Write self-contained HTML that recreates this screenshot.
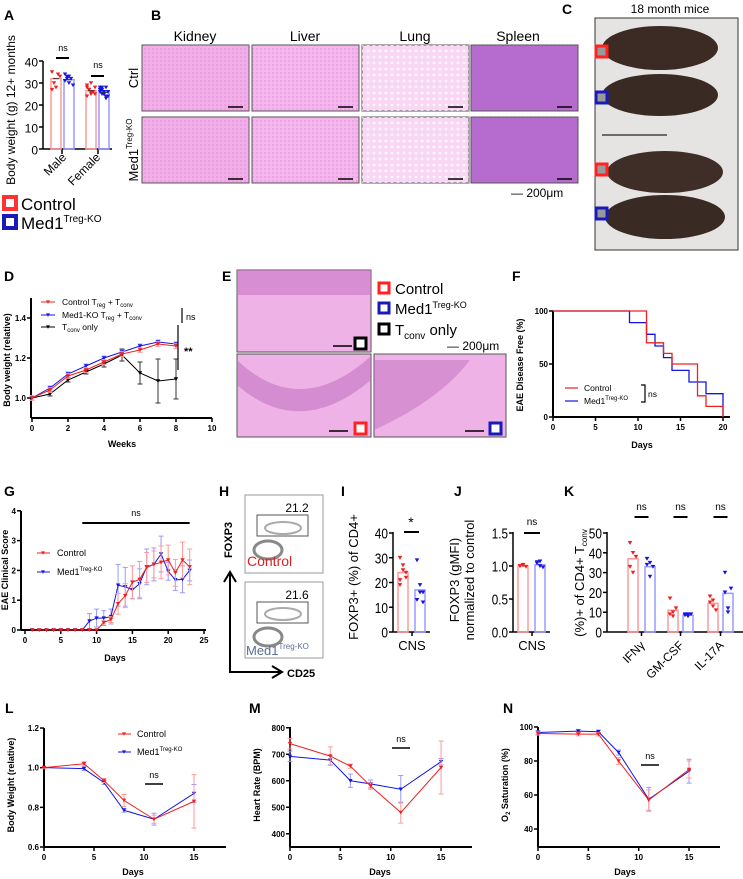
<!DOCTYPE html>
<html><head><meta charset="utf-8"><style>
body{margin:0;background:#fff}
svg{display:block;font-family:"Liberation Sans",Arial,sans-serif}
.pl{font-weight:bold;font-size:14px}
.tk{font-size:8px;font-weight:bold}
.at{font-size:9px;font-weight:bold}
.tk2{font-size:15px}
</style></head><body>
<svg id="fig" width="743" height="879" viewBox="0 0 743 879" xmlns="http://www.w3.org/2000/svg">
<text class="pl" x="4" y="20">A</text>
<text class="pl" x="151" y="20">B</text>
<text class="pl" x="562" y="14">C</text>
<text class="pl" x="4" y="281">D</text>
<text class="pl" x="222" y="281">E</text>
<text class="pl" x="512" y="281">F</text>
<text class="pl" x="4" y="496">G</text>
<text class="pl" x="219" y="496">H</text>
<text class="pl" x="341" y="496">I</text>
<text class="pl" x="454" y="496">J</text>
<text class="pl" x="564" y="496">K</text>
<text class="pl" x="5" y="713">L</text>
<text class="pl" x="249" y="713">M</text>
<text class="pl" x="503" y="713">N</text>

<!-- A -->
<text x="15" y="110" font-size="12" transform="rotate(-90 15 110)" text-anchor="middle">Body weight (g) 12+ months</text>
<text x="67" y="158" font-size="12" text-anchor="end" transform="rotate(-45 67 158)">Male</text>
<text x="101" y="158" font-size="12" text-anchor="end" transform="rotate(-45 101 158)">Female</text>
<text x="63" y="51" font-size="9" text-anchor="middle">ns</text>
<line x1="56" y1="58" x2="69" y2="58" stroke="#000" stroke-width="2"/>
<text x="98" y="68" font-size="9" text-anchor="middle">ns</text>
<line x1="91" y1="76" x2="104" y2="76" stroke="#000" stroke-width="2"/>
<g>
<rect x="4" y="197" width="12" height="12" fill="#fff" stroke="#f33" stroke-width="4"/>
<text x="21" y="210" font-size="17">Control</text>
<rect x="4" y="216" width="12" height="12" fill="#fff" stroke="#1a1ab8" stroke-width="4"/>
<text x="21" y="229" font-size="17">Med1<tspan font-size="10" dy="-7">Treg-KO</tspan></text>
</g>

<!-- B histology -->
<defs>
<pattern id="dots" width="4" height="4" patternUnits="userSpaceOnUse"><rect width="4" height="4" fill="none"/><circle cx="1" cy="1" r="0.7" fill="#c860c0" opacity="0.5"/></pattern>
<pattern id="dots2" width="6" height="6" patternUnits="userSpaceOnUse"><circle cx="2" cy="3" r="1.5" fill="#fff" opacity="0.7"/></pattern>
</defs>
<text x="195" y="41" font-size="14" text-anchor="middle">Kidney</text>
<text x="305" y="41" font-size="14" text-anchor="middle">Liver</text>
<text x="415" y="41" font-size="14" text-anchor="middle">Lung</text>
<text x="518" y="41" font-size="14" text-anchor="middle">Spleen</text>
<text x="138" y="78" font-size="13" text-anchor="middle" transform="rotate(-90 138 78)">Ctrl</text>
<text x="138" y="150" font-size="13" text-anchor="middle" transform="rotate(-90 138 150)">Med1<tspan font-size="8" dy="-6">Treg-KO</tspan></text>
<g id="bimgs"></g>
<text x="511" y="197" font-size="12">— 200μm</text>

<!-- C photo -->
<text x="670" y="13" font-size="12" text-anchor="middle">18 month mice</text>
<g>
<rect x="595" y="18" width="143" height="232" fill="#e6e4e2" stroke="#333"/>
<ellipse cx="660" cy="48" rx="58" ry="22" fill="#3b2b24"/>
<ellipse cx="660" cy="95" rx="58" ry="21" fill="#3a2a24"/>
<line x1="602" y1="135" x2="667" y2="135" stroke="#444" stroke-width="1.5"/>
<ellipse cx="665" cy="172" rx="58" ry="21" fill="#3f2e27"/>
<ellipse cx="665" cy="217" rx="60" ry="22" fill="#3a2a24"/>
<rect x="596" y="46" width="11" height="11" fill="#999" stroke="#f22" stroke-width="3"/>
<rect x="596" y="92" width="11" height="11" fill="#999" stroke="#1a1ab8" stroke-width="3"/>
<rect x="596" y="164" width="11" height="11" fill="#999" stroke="#f22" stroke-width="3"/>
<rect x="596" y="208" width="11" height="11" fill="#999" stroke="#1a1ab8" stroke-width="3"/>
</g>

<!-- E histology -->
<g>
<rect x="237" y="270" width="134" height="82" fill="#efb2e6" stroke="#555"/>
<rect x="237" y="270" width="134" height="25" fill="#c676c4" opacity="0.6"/>
<rect x="237" y="354" width="134" height="83" fill="#efb2e6" stroke="#555"/>
<path d="M237 360 Q300 420 371 356 L371 380 Q300 440 237 385 Z" fill="#c070c0" opacity="0.55"/>
<rect x="374" y="354" width="132" height="83" fill="#efb2e6" stroke="#555"/>
<path d="M374 360 L470 360 Q440 400 374 430 Z" fill="#c070c0" opacity="0.5"/>
<line x1="333" y1="346" x2="352" y2="346" stroke="#000" stroke-width="1.5"/>
<rect x="355" y="338" width="11" height="11" fill="#fff" stroke="#000" stroke-width="3"/>
<line x1="329" y1="431" x2="348" y2="431" stroke="#000" stroke-width="1.5"/>
<rect x="355" y="423" width="11" height="11" fill="#fff" stroke="#f22" stroke-width="3"/>
<line x1="465" y1="431" x2="484" y2="431" stroke="#000" stroke-width="1.5"/>
<rect x="490" y="423" width="11" height="11" fill="#fff" stroke="#1a1ab8" stroke-width="3"/>
</g>
<g>
<rect x="379" y="283" width="10" height="10" fill="#fff" stroke="#f22" stroke-width="3"/>
<text x="395" y="294" font-size="15">Control</text>
<rect x="379" y="303" width="10" height="10" fill="#fff" stroke="#1a1ab8" stroke-width="3"/>
<text x="395" y="314" font-size="15">Med1<tspan font-size="9" dy="-6">Treg-KO</tspan></text>
<rect x="379" y="324" width="10" height="10" fill="#fff" stroke="#000" stroke-width="3"/>
<text x="395" y="335" font-size="15">T<tspan font-size="10" dy="4">conv</tspan><tspan dy="-4"> only</tspan></text>
<text x="447" y="350" font-size="12">— 200μm</text>
</g>

<!-- Axis titles for line charts -->
<text class="at" x="10" y="360" text-anchor="middle" transform="rotate(-90 10 360)">Body weight (relative)</text>
<text class="at" x="122" y="447" text-anchor="middle">Weeks</text>
<text class="at" x="523" y="365" text-anchor="middle" transform="rotate(-90 523 365)">EAE Disease Free (%)</text>
<text class="at" x="642" y="448" text-anchor="middle">Days</text>
<text class="at" x="8" y="570" text-anchor="middle" transform="rotate(-90 8 570)">EAE Clinical Score</text>
<text class="at" x="115" y="661" text-anchor="middle">Days</text>
<text class="at" x="14" y="785" text-anchor="middle" transform="rotate(-90 14 785)">Body Weight (relative)</text>
<text class="at" x="133" y="875" text-anchor="middle">Days</text>
<text class="at" x="260" y="785" text-anchor="middle" transform="rotate(-90 260 785)">Heart Rate (BPM)</text>
<text class="at" x="380" y="875" text-anchor="middle">Days</text>
<text class="at" x="508" y="785" text-anchor="middle" transform="rotate(-90 508 785)">O<tspan font-size="6" dy="2">2</tspan><tspan dy="-2"> Saturation (%)</tspan></text>
<text class="at" x="625" y="875" text-anchor="middle">Days</text>

<!-- H flow -->
<g>
<rect x="245" y="495" width="78" height="78" fill="#fff" stroke="#999"/>
<ellipse cx="268" cy="550" rx="14" ry="9" fill="none" stroke="#888" stroke-width="3"/>
<ellipse cx="283" cy="528" rx="18" ry="6" fill="none" stroke="#aaa" stroke-width="2"/>
<rect x="257" y="515" width="51" height="21" fill="none" stroke="#555"/>
<text x="297" y="512" font-size="12" text-anchor="middle">21.2</text>
<text x="247" y="566" font-size="14" fill="#d22">Control</text>
<rect x="245" y="582" width="78" height="76" fill="#fff" stroke="#999"/>
<ellipse cx="268" cy="637" rx="14" ry="9" fill="none" stroke="#888" stroke-width="3"/>
<ellipse cx="283" cy="614" rx="18" ry="6" fill="none" stroke="#aaa" stroke-width="2"/>
<rect x="257" y="602" width="51" height="21" fill="none" stroke="#555"/>
<text x="297" y="599" font-size="12" text-anchor="middle">21.6</text>
<text x="246" y="655" font-size="13" fill="#5a6f95">Med1<tspan font-size="8" dy="-6">Treg-KO</tspan></text>
<line x1="230" y1="672" x2="230" y2="574" stroke="#000" stroke-width="2"/>
<path d="M224 582 L230 572 L236 582" fill="none" stroke="#000" stroke-width="2"/>
<line x1="229" y1="672" x2="280" y2="672" stroke="#000" stroke-width="2"/>
<path d="M272 666 L282 672 L272 678" fill="none" stroke="#000" stroke-width="2"/>
<text x="287" y="677" font-size="11" font-weight="bold">CD25</text>
<text x="232" y="540" font-size="11" font-weight="bold" text-anchor="middle" transform="rotate(-90 232 540)">FOXP3</text>
</g>

<!-- I/J/K titles -->
<text x="358" y="577" font-size="13" text-anchor="middle" transform="rotate(-90 358 577)">FOXP3+ (%) of CD4+</text>
<text x="412" y="650" font-size="13" text-anchor="middle">CNS</text>
<text x="459" y="580" font-size="13" text-anchor="middle" transform="rotate(-90 459 580)">FOXP3 (gMFI)</text>
<text x="474" y="580" font-size="13" text-anchor="middle" transform="rotate(-90 474 580)">normalized to control</text>
<text x="532" y="650" font-size="13" text-anchor="middle">CNS</text>
<text x="584" y="583" font-size="13" text-anchor="middle" transform="rotate(-90 584 583)">(%)+ of CD4+ T<tspan font-size="8" dy="3">conv</tspan></text>

<g id="charts"></g>
</svg>
<script>
const NS="http://www.w3.org/2000/svg";
const svg=document.getElementById('charts');
function mk(tag,attrs,txt){const e=document.createElementNS(NS,tag);for(const k in attrs)e.setAttribute(k,attrs[k]);if(txt!==undefined)e.textContent=txt;svg.appendChild(e);return e;}
const RED="#f02020",BLUE="#1515e0",LRED="#ff9a9a",LBLUE="#9a9aff";

// ---------- data ----------
const aCats=["Male","Female"];
const aCtrl=[32,26.5];
const aKO=[31.5,25.8];
const aCtrlPts=[[35,30,28,34,33,27],[29,27,25,26,28,24,27,30,26,25,28,27,26]];
const aKOPts=[[34,33,30,32,29,31,32,33],[28,27,25,24,26,27,25,26,28,24,26,27,25,23,26,27,28,25]];
const aTicks=[0,10,20,30,40];

const dWeeks=[0,1,2,3,4,5,6,7,8];
const dCtrl=[1.0,1.04,1.11,1.14,1.18,1.22,1.24,1.27,1.26];
const dKO=[1.0,1.05,1.12,1.16,1.20,1.23,1.26,1.28,1.27];
const dTconv=[1.0,1.02,1.09,1.13,1.17,1.215,1.125,1.085,1.095];
const dTconvErr=[0,0.01,0.01,0.01,0.015,0.03,0.055,0.11,0.1];
const dYTicks=[1.0,1.2,1.4];
const dXTicks=[0,2,4,6,8,10];

const fCtrlDays=[0,11,13,14,17,18,20];
const fCtrlVals=[100,70,60,50,20,10,0];
const fKODays=[0,9,11,12,13,14,16,18,20];
const fKOVals=[100,89,78,67,56,44,33,22,0];
const fYTicks=[0,50,100];
const fXTicks=[0,5,10,15,20];

const gDays=[1,2,3,4,5,6,7,8,9,10,11,12,13,14,15,16,17,18,19,20,21,22,23];
const gCtrl=[0,0,0,0,0,0,0,0,0,0,0.25,0.35,0.88,1.15,1.6,1.7,2.1,2.2,2.27,2.35,1.92,2.35,2.12];
const gCtrlErr=[0,0,0,0,0,0,0,0,0,0,0.05,0.1,0.35,0.4,0.55,0.6,0.5,0.45,0.55,0.5,0.45,0.6,0.6];
const gKO=[0,0,0,0,0,0,0,0,0.3,0.4,0.4,0.45,1.5,1.45,1.35,1.55,2.12,2.2,2.55,1.97,1.68,1.7,2.0];
const gKOErr=[0,0,0,0,0,0,0,0,0.25,0.3,0.25,0.25,0.7,0.65,0.3,0.5,0.6,0.55,0.6,0.3,0.35,0.45,0.35];
const gYTicks=[0,1,2,3,4];
const gXTicks=[0,5,10,15,20,25];

const iCtrl=24, iKO=17;
const iCtrlPts=[30,25,22,19,27,24,21];
const iKOPts=[29,19,12,13,16,16];
const iTicks=[0,10,20,30,40];
const jCtrl=1.0, jKO=1.02;
const jCtrlPts=[1.0,1.01,0.99,1.0,1.02];
const jKOPts=[1.06,1.0,0.98,1.04,1.07];
const jTicks=[0.0,0.5,1.0,1.5];
const kCats=["IFNγ","GM-CSF","IL-17A"];
const kCtrl=[37,11,14.5];
const kKO=[33,8.5,19.5];
const kCtrlPts=[[45,30,38,33,40],[17,8,12,9,10],[18,13,11,15,16]];
const kKOPts=[[37,28,33,34,35],[9,8,9,8.5,9],[30,10,22,20,12]];
const kTicks=[0,10,20,30,40,50];

const lDays=[0,4,6,8,11,15];
const lCtrl=[1.0,1.02,0.935,0.835,0.74,0.83];
const lCtrlErr=[0.005,0.01,0.01,0.03,0.02,0.135];
const lKO=[1.0,0.995,0.925,0.785,0.74,0.87];
const lKOErr=[0.005,0.01,0.01,0.01,0.03,0.045];
const lYTicks=[0.6,0.8,1.0,1.2];
const mCtrl=[740,693,655,580,480,650];
const mCtrlErr=[20,35,8,12,40,100];
const mKO=[692,678,600,588,568,672];
const mKOErr=[20,18,25,15,52,12];
const mYTicks=[400,500,600,700,800];
const nCtrl=[96.2,95.8,95.8,80,57,75];
const nCtrlErr=[1,1,1,2,6,5];
const nKO=[96.8,97.6,97.2,85,57.5,74];
const nKOErr=[1,1,1,1.5,7,7];
const nYTicks=[40,60,80,100];
const lmnXTicks=[0,5,10,15];

// ---------- scales ----------
const yA=v=>149-v*2.2;
const xD=w=>32+w*18, yD=v=>398-(v-1)*200;
const xF=d=>553+d*8.5, yF=v=>417-v*1.06;
const xG=d=>25+d*7.16, yG=v=>630-v*29.8;
const yI=v=>632-v*2.475, yJ=v=>632-v*66, yK=v=>632-v*1.98;
const xL=d=>44+d*10, yL=v=>847-(v-0.6)*198.3;
const xM=d=>290+d*10.07, yM=v=>847-(v-350)*0.265;
const xN=d=>538+d*10.07, yN=v=>727+(100-v)*1.7;

function tri(cx,cy,r,col,name){
  const p=mk('path',{d:`M${cx-r} ${cy-r*0.8} L${cx+r} ${cy-r*0.8} L${cx} ${cy+r*0.9} Z`,fill:col});
  
  
  return p;
}
function axisY(x,y1,y2,ticks,sc,fmt,cls,name,big){
  const a=mk('line',{x1:x,y1:y1,x2:x,y2:y2,stroke:'#000','stroke-width':cls==='tk2'?1.5:2});
  
  
  ticks.forEach(t=>{
    const l=mk('line',{x1:x-4,y1:sc(t),x2:x,y2:sc(t),stroke:'#000','stroke-width':1.5});
    
    
    const s=fmt(t);
    const at={x:x-5,y:sc(t)+(cls==='tk2'?5.5:3),'text-anchor':'end',class:cls};
    if(cls==='tk2'&&big){at.textLength=(s.replace('.','').length*6.6+(s.indexOf('.')>=0?3:0)).toFixed(1);at.lengthAdjust='spacingAndGlyphs';}
    if(cls==='tk2'&&!big){at.style='font-size:12px';}
    const tx=mk('text',at,s);
    
    
  });
}
function axisX(y,x1,x2,ticks,sc,name){
  const a=mk('line',{x1:x1,y1:y,x2:x2,y2:y,stroke:'#000','stroke-width':2});
  
  
  ticks.forEach(t=>{
    const l=mk('line',{x1:sc(t),y1:y,x2:sc(t),y2:y+4,stroke:'#000','stroke-width':1.5});
    
    
    const tx=mk('text',{x:sc(t),y:y+13,'text-anchor':'middle',class:'tk'},String(t));
    
    
  });
}
function series(xs,ys,errs,xs_,ys_,col,ecol,name){
  if(errs){xs.forEach((d,i)=>{
    if(errs[i]>0){const x=xs_(d),y1=ys_(ys[i]-errs[i]),y2=ys_(ys[i]+errs[i]);
      const e=mk('path',{d:`M${x} ${y1} L${x} ${y2} M${x-2.5} ${y2} L${x+2.5} ${y2} M${x-2.5} ${y1} L${x+2.5} ${y1}`,stroke:ecol,'stroke-width':1,fill:'none'});
      
      }
  });}
  const p=mk('polyline',{points:xs.map((d,i)=>xs_(d)+','+ys_(ys[i])).join(' '),fill:'none',stroke:col,'stroke-width':1});
  
  
  xs.forEach((d,i)=>tri(xs_(d),ys_(ys[i]),2.2,col,name+'-point'));
}
function txt(x,y,s,attrs,name){const t=mk('text',Object.assign({x:x,y:y},attrs||{}),s);
  
  return t;}
function ln(x1,y1,x2,y2,col,w,name){const l=mk('line',{x1,y1,x2,y2,stroke:col,'stroke-width':w});
  
  return l;}

// ---------- B histology ----------
const bg=document.getElementById('bimgs');
const bCols=[142,252,362,471];
const bFills=["#f2aee8","#f4b6ec","#f8d6f4","#b56ccf"];
const bNames=["kidney","liver","lung","spleen"];
[45,117].forEach((y,r)=>bCols.forEach((x,c)=>{
  const rr=document.createElementNS(NS,'rect');
  rr.setAttribute('x',x);rr.setAttribute('y',y);rr.setAttribute('width',107);rr.setAttribute('height',66);
  rr.setAttribute('fill',bFills[c]);rr.setAttribute('stroke','#555');
  
  
  bg.appendChild(rr);
  const ov=document.createElementNS(NS,'rect');
  ov.setAttribute('x',x);ov.setAttribute('y',y);ov.setAttribute('width',107);ov.setAttribute('height',66);
  ov.setAttribute('fill',c===2?'url(#dots2)':'url(#dots)');
  
  
  bg.appendChild(ov);
  const sb=document.createElementNS(NS,'line');
  sb.setAttribute('x1',x+86);sb.setAttribute('x2',x+101);sb.setAttribute('y1',y+62);sb.setAttribute('y2',y+62);
  sb.setAttribute('stroke','#000');sb.setAttribute('stroke-width',1.5);
  
  
  bg.appendChild(sb);
}));

// ---------- A ----------
axisY(43,61,149,aTicks,yA,String,'tk2','a',false);
ln(43,149,112,149,'#000',1.5,'a-x-axis');
[62,98].forEach(x=>ln(x,149,x,154,'#000',1.5,'a-x-tick'));
const aX=[[56,69],[91,104]];
aCats.forEach((c,i)=>{
  [[aCtrl,aCtrlPts,LRED,RED],[aKO,aKOPts,LBLUE,BLUE]].forEach((s,j)=>{
    const cx=aX[i][j],v=s[0][i];
    const b=mk('rect',{x:cx-5,y:yA(v),width:10,height:149-yA(v),fill:'none',stroke:s[2],'stroke-width':1.5});
    
    
    s[1][i].forEach((p,k)=>tri(cx-4+(k%5)*2,yA(p),2.2,s[3],'a-point'));
    ln(cx-3,yA(v),cx+3,yA(v),'#333',1,'a-mean');
  });
});

// ---------- D ----------
axisY(31,298,418,dYTicks,yD,v=>v.toFixed(1),'tk','d');
axisX(418,31,212,dXTicks,xD,'d');
series(dWeeks,dTconv,dTconvErr,xD,yD,'#000','#333','d-tconv');
series(dWeeks,dKO,dWeeks.map(()=>0.01),xD,yD,BLUE,LBLUE,'d-ko');
series(dWeeks,dCtrl,dWeeks.map(()=>0.012),xD,yD,RED,LRED,'d-ctrl');
ln(182,308,182,323,'#000',1.2,'d-ns-bracket');
txt(186,320,'ns',{'font-size':9},'d-ns');
ln(178,325,178,370,'#000',1.2,'d-sig-bracket');
txt(184,355,'**',{'font-size':11,'font-weight':'bold'},'d-sig');
[[302,RED,'Control T','reg',' + T','conv'],[315,BLUE,'Med1-KO T','reg',' + T','conv'],[327,'#000','T','conv',' only','']].forEach((r,i)=>{
  ln(41,r[0],55,r[0],r[1],1,'d-legend-line');
  tri(48,r[0],2,r[1],'d-legend-marker');
  const t=txt(62,r[0]+3,'',{'font-size':8.5},'d-legend-label');
  t.innerHTML=r[2]+'<tspan font-size="6" dy="2">'+r[3]+'</tspan><tspan dy="-2">'+r[4]+'</tspan><tspan font-size="6" dy="2">'+r[5]+'</tspan>';
});

// ---------- F ----------
axisY(553,311,417,fYTicks,yF,String,'tk','f');
axisX(417,553,730,fXTicks,xF,'f');
function steps(ds,vs){let p=`M${xF(ds[0])} ${yF(vs[0])}`;for(let i=1;i<ds.length;i++){p+=` L${xF(ds[i])} ${yF(vs[i-1])} L${xF(ds[i])} ${yF(vs[i])}`;}return p;}
const fk=mk('path',{d:steps(fKODays,fKOVals),fill:'none',stroke:BLUE,'stroke-width':1.3});


const fc=mk('path',{d:steps(fCtrlDays,fCtrlVals),fill:'none',stroke:RED,'stroke-width':1.3});


ln(565,388,578,388,RED,1.2,'f-legend-ctrl-line');
txt(584,391,'Control',{'font-size':8.5},'f-legend-ctrl');
ln(565,401,578,401,BLUE,1.2,'f-legend-ko-line');
const fl=txt(584,404,'',{'font-size':8.5},'f-legend-ko');
fl.innerHTML='Med1<tspan font-size="6" dy="-4">Treg-KO</tspan>';
const fb=mk('path',{d:'M641 385 L645 385 L645 402 L641 402',fill:'none',stroke:'#000','stroke-width':1.2});


txt(648,397,'ns',{'font-size':8.5},'f-ns');

// ---------- G ----------
axisY(21,511,630,gYTicks,yG,String,'tk','g');
axisX(630,21,206,gXTicks,xG,'g');
series(gDays,gKO,gKOErr,xG,yG,BLUE,LBLUE,'g-ko');
series(gDays,gCtrl,gCtrlErr,xG,yG,RED,LRED,'g-ctrl');
ln(xG(8),523,xG(23),523,'#000',2,'g-ns-line');
txt(136,516,'ns',{'font-size':9,'text-anchor':'middle'},'g-ns');
ln(37,553,50,553,RED,1,'g-legend-ctrl-line');tri(43,553,2,RED,'g-legend-ctrl-marker');
txt(57,556,'Control',{'font-size':9},'g-legend-ctrl');
ln(37,572,50,572,BLUE,1,'g-legend-ko-line');tri(43,572,2,BLUE,'g-legend-ko-marker');
const gl=txt(57,575,'',{'font-size':9},'g-legend-ko');
gl.innerHTML='Med1<tspan font-size="6" dy="-4">Treg-KO</tspan>';

// ---------- I/J/K bars ----------
function barPair(cx,v,pts,sc,col,pcol,name){
  const b=mk('rect',{x:cx-5,y:sc(v),width:10,height:632-sc(v),fill:'none',stroke:col,'stroke-width':1.5});
  
  
  pts.forEach((p,k)=>tri(cx-3+(k%3)*3,sc(p),2.3,pcol,name+'-point'));
}
axisY(393,532,632,iTicks,yI,String,'tk2','i',true);
ln(393,632,430,632,'#000',1.5,'i-x-axis');
ln(412,632,412,636,'#000',1.5,'i-x-tick');
barPair(403,iCtrl,iCtrlPts,yI,LRED,RED,'i-bar-ctrl');
barPair(420,iKO,iKOPts,yI,LBLUE,BLUE,'i-bar-ko');
ln(404,532,419,532,'#000',2,'i-sig-line');
txt(411,527,'*',{'font-size':14,'text-anchor':'middle'},'i-sig');
axisY(513,532,632,jTicks,yJ,v=>v.toFixed(1),'tk2','j',true);
ln(513,632,550,632,'#000',1.5,'j-x-axis');
ln(532,632,532,636,'#000',1.5,'j-x-tick');
barPair(523,jCtrl,jCtrlPts,yJ,LRED,RED,'j-bar-ctrl');
barPair(540,jKO,jKOPts,yJ,LBLUE,BLUE,'j-bar-ko');
ln(524,533,540,533,'#000',2,'j-ns-line');
txt(532,525,'ns',{'font-size':10,'text-anchor':'middle'},'j-ns');
axisY(607,532,632,kTicks,yK,String,'tk2','k',true);
ln(607,632,743,632,'#000',1.5,'k-x-axis');
const kX=[[633,650],[673,688],[713,728]];
kCats.forEach((c,i)=>{
  barPair(kX[i][0],kCtrl[i],kCtrlPts[i],yK,LRED,RED,'k-bar-ctrl');
  barPair(kX[i][1],kKO[i],kKOPts[i],yK,LBLUE,BLUE,'k-bar-ko');
  const m=(kX[i][0]+kX[i][1])/2;
  ln(m,632,m,636,'#000',1.5,'k-x-tick');
  ln(m-7,517,m+7,517,'#000',2,'k-ns-line');
  txt(m,510,'ns',{'font-size':10,'text-anchor':'middle'},'k-ns');
  txt(m+4,646,c,{'font-size':12,'text-anchor':'end',transform:`rotate(-45 ${m+4} 646)`},'k-category-label');
});

// ---------- L/M/N ----------
function panel(xs,ys1,e1,ys2,e2,xsc,ysc,ax,top,ticks,fmt,name,nsx,nsy){
  axisY(ax,top,847,ticks,ysc,fmt,'tk',name);
  axisX(847,ax,ax+182,lmnXTicks,xsc,name);
  series(xs,ys2,e2,xsc,ysc,BLUE,LBLUE,name+'-ko');
  series(xs,ys1,e1,xsc,ysc,RED,LRED,name+'-ctrl');
  ln(nsx-9,nsy,nsx+9,nsy,'#000',1.5,name+'-ns-line');
  txt(nsx,nsy-6,'ns',{'font-size':9,'text-anchor':'middle'},name+'-ns');
}
panel(lDays,lCtrl,lCtrlErr,lKO,lKOErr,xL,yL,44,728,lYTicks,v=>v.toFixed(1),'l',154,784);
panel(lDays,mCtrl,mCtrlErr,mKO,mKOErr,xM,yM,290,727,mYTicks,String,'m',401,748);
panel(lDays,nCtrl,nCtrlErr,nKO,nKOErr,xN,yN,538,727,nYTicks,String,'n',650,765);
ln(118,734,131,734,RED,1,'l-legend-ctrl-line');tri(124,734,2,RED,'l-legend-ctrl-marker');
txt(137,737,'Control',{'font-size':9},'l-legend-ctrl');
ln(118,752,131,752,BLUE,1,'l-legend-ko-line');tri(124,752,2,BLUE,'l-legend-ko-marker');
const ll=txt(137,755,'',{'font-size':9},'l-legend-ko');
ll.innerHTML='Med1<tspan font-size="6" dy="-4">Treg-KO</tspan>';
</script>
</body></html>
